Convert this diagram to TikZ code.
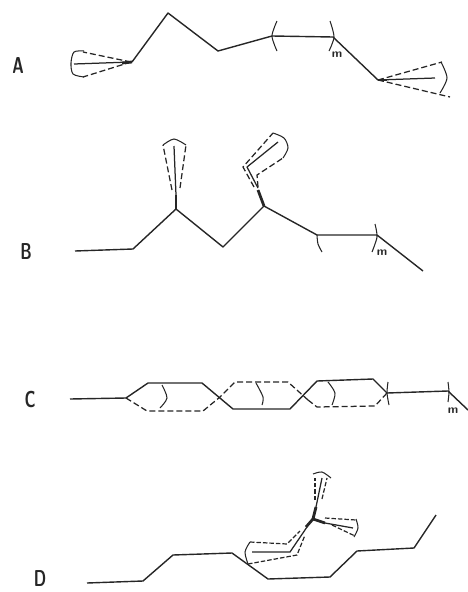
\documentclass[tikz,border=0pt]{standalone}
\usepackage{xcolor}
\usepackage{tikz}
\usetikzlibrary{arrows.meta,positioning}
\usepackage{amsmath}
\definecolor{inkgray}{gray}{0.15}
\newcommand{\tallletter}[1]{\scalebox{0.68}[1]{#1}}

\begin{document}
\begin{tikzpicture}[
    x=1pt, y=-1pt,
    chain/.style={draw=inkgray, line width=1.4pt, line join=round},
    solidbond/.style={draw=inkgray, line width=1.25pt, line join=round},
    heavy/.style={draw=inkgray, line width=2.8pt},
    dashbond/.style={draw=inkgray, line width=1.25pt, dash pattern=on 6pt off 3pt},
    tinydash/.style={draw=inkgray, line width=1.2pt, dash pattern=on 4.5pt off 2pt},
    sweep/.style={draw=inkgray, line width=1.05pt},
    letter/.style={font=\sffamily\bfseries\fontsize{23}{23}\selectfont, text=inkgray, inner sep=0pt},
    repeat/.style={font=\sffamily\bfseries\large, text=inkgray, inner sep=0pt}
]
\useasboundingbox (0,0) rectangle (468,592);

% A
\node[letter] (labelA) at (18,66) {\tallletter{A}};
\node[repeat] (mA) at (337,55) {m};
\draw[chain] (132,62) -- (168,13) -- (218,51) -- (272,36) -- (333,37) -- (378,80);
\draw[heavy] (122,63) -- (132,62);
\draw[heavy] (378,80) -- (387,80);
\draw[solidbond] (131,62) -- (74,64);
\draw[dashbond] (131,62) -- (83,52);
\draw[dashbond] (131,62) -- (83,77);
\draw[sweep] plot[smooth] coordinates {(84,51) (74,52) (71,63) (73,74) (84,77)};
\draw[solidbond] (378,80) -- (435,78);
\draw[dashbond] (378,80) -- (442,62);
\draw[dashbond] (378,80) -- (450,97);
\draw[sweep] plot[smooth] coordinates {(441,62) (447,78) (440,93)};
\draw[sweep] plot[smooth] coordinates {(277,21) (272,36) (277,51)};
\draw[sweep] plot[smooth] coordinates {(330,21) (334,37) (329,51)};

% B
\node[letter] (labelB) at (26,252) {\tallletter{B}};
\node[repeat] (mB) at (382,253) {m};
\draw[chain] (75,251) -- (133,249) -- (176,209) -- (223,247) -- (264,206) -- (317,235) -- (377,235) -- (423,271);
\draw[heavy] (176,209) -- (176,195);
\draw[solidbond] (176,195) -- (174,146);
\draw[dashbond] (172,190) -- (163,145);
\draw[dashbond] (180,188) -- (186,145);
\draw[sweep] plot[smooth] coordinates {(163,145) (174,139) (186,145)};
\draw[heavy] (264,206) -- (258,190);
\draw[solidbond] (258,188) -- (247,167) -- (278,142);
\draw[dashbond] (254,187) -- (243,167) -- (273,133);
\draw[dashbond] (258,187) -- (257,175) -- (283,158);
\draw[sweep] plot[smooth] coordinates {(273,133) (284,138) (288,148) (283,158)};
\draw[sweep] plot[smooth] coordinates {(317,235) (318,244) (322,252)};
\draw[sweep] plot[smooth] coordinates {(375,224) (377,237) (372,252)};

% C
\node[letter] (labelC) at (30,400) {\tallletter{C}};
\node[repeat] (mC) at (453,411) {m};
\draw[chain] (70,399) -- (126,398) -- (148,383) -- (202,383) -- (233,409) -- (290,409) -- (317,381) -- (373,379) -- (387,393) -- (448,391) -- (468,410);
\draw[dashbond] (126,398) -- (147,411) -- (203,411) -- (220,397) -- (235,382) -- (288,382) -- (308,400);
\draw[dashbond] (308,400) -- (317,407) -- (375,406) -- (387,393);
\draw[sweep] plot[smooth] coordinates {(162,385) (167,398) (160,408)};
\draw[sweep] plot[smooth] coordinates {(256,383) (263,397) (262,405)};
\draw[sweep] plot[smooth] coordinates {(328,382) (335,393) (332,405)};
\draw[sweep] plot[smooth] coordinates {(388,382) (387,393) (389,405)};
\draw[sweep] plot[smooth] coordinates {(448,382) (449,392) (448,402)};

% D
\node[letter] (labelD) at (40,579) {\tallletter{D}};
\draw[chain] (87,583) -- (143,581) -- (173,555) -- (232,553) -- (268,579) -- (330,577) -- (357,551) -- (414,548) -- (436,515);
\draw[tinydash] (248,564) -- (297,555) -- (305,535);
\draw[solidbond] (252,552) -- (290,552) -- (307,527);
\draw[heavy] (306,527) -- (313,519);
\draw[tinydash] (250,542) -- (287,544) -- (300,531);
\draw[sweep] plot[smooth] coordinates {(250,542) (245,552) (248,564)};
\draw[heavy] (313,519) -- (316,507);
\draw[solidbond] (316,507) -- (322,478);
\draw[tinydash] (315,500) -- (315,478);
\draw[tinydash] (322,499) -- (327,478);
\draw[sweep] plot[smooth] coordinates {(313,474) (322,472) (331,478)};
\draw[heavy] (313,519) -- (325,523);
\draw[solidbond] (325,523) -- (353,528);
\draw[tinydash] (325,518) -- (356,520);
\draw[tinydash] (332,525) -- (355,536);
\draw[sweep] plot[smooth] coordinates {(356,519) (358,528) (354,537)};

\end{tikzpicture}
\end{document}
